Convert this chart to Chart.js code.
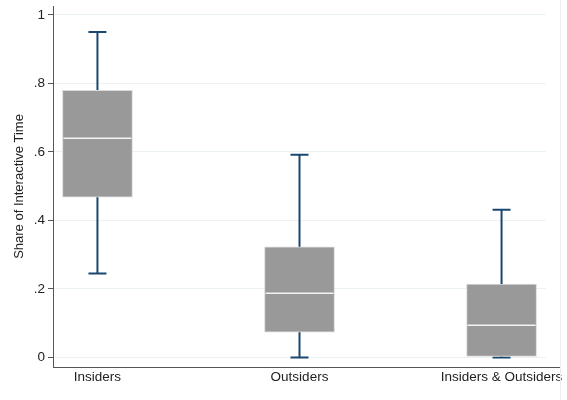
<!DOCTYPE html>
<html>
<head>
<meta charset="utf-8">
<script src="https://cdn.jsdelivr.net/npm/chart.js@4"></script>
<style>
  html, body { margin: 0; padding: 0; background: #fff; }
  #wrap { width: 567px; height: 400px; }
</style>
</head>
<body>
<div id="wrap"><canvas id="myChart"></canvas></div>
<script>
// groups on the x axis
const groups = ['Insiders', 'Outsiders', 'Insiders & Outsiders'];

// box plot values
const whiskerLow = [0.245, 0.0, 0.0];
const q1 = [0.468, 0.074, 0.003];
const median = [0.64, 0.187, 0.094];
const q3 = [0.78, 0.323, 0.214];
const whiskerHigh = [0.95, 0.592, 0.431];

const yTicks = [0, 0.2, 0.4, 0.6, 0.8, 1];
const yTickLabels = ['0', '.2', '.4', '.6', '.8', '1'];

const whiskerColor = '#1a476f';

// whiskers go behind the boxes, medians on top
const boxPlotLines = {
  id: 'boxPlotLines',
  beforeDatasetsDraw(chart) {
    const ctx = chart.ctx, x = chart.scales.x, y = chart.scales.y;
    ctx.save();
    ctx.strokeStyle = whiskerColor;
    ctx.lineWidth = 2;
    groups.forEach((g, i) => {
      const px = x.getPixelForValue(i);
      const lo = y.getPixelForValue(whiskerLow[i]);
      const hi = y.getPixelForValue(whiskerHigh[i]);
      ctx.beginPath();
      ctx.moveTo(px, lo); ctx.lineTo(px, hi);
      ctx.moveTo(px - 9, lo); ctx.lineTo(px + 9, lo);
      ctx.moveTo(px - 9, hi); ctx.lineTo(px + 9, hi);
      ctx.stroke();
    });
    ctx.restore();
  },
  afterDatasetsDraw(chart) {
    const ctx = chart.ctx, x = chart.scales.x, y = chart.scales.y;
    ctx.save();
    ctx.strokeStyle = '#f4f4f4';
    ctx.lineWidth = 1.5;
    groups.forEach((g, i) => {
      const px = x.getPixelForValue(i);
      const py = y.getPixelForValue(median[i]);
      ctx.beginPath();
      ctx.moveTo(px - 34, py); ctx.lineTo(px + 34, py);
      ctx.stroke();
    });
    ctx.restore();
  },
  afterDraw(chart) {
    // x axis line runs a bit past the plot region, plus the faint frame edge
    const ctx = chart.ctx, a = chart.chartArea;
    ctx.save();
    ctx.strokeStyle = '#555';
    ctx.lineWidth = 1;
    ctx.beginPath();
    ctx.moveTo(a.right, a.bottom + 0.5); ctx.lineTo(560, a.bottom + 0.5);
    ctx.stroke();
    ctx.strokeStyle = '#ececec';
    ctx.beginPath();
    ctx.moveTo(560.5, 0); ctx.lineTo(560.5, 400);
    ctx.stroke();
    ctx.restore();
  }
};

const data = {
  datasets: [{
    label: 'IQR',
    data: groups.map((g, i) => ({ x: i, y: [q1[i], q3[i]] })),
    backgroundColor: '#999999',
    borderColor: '#dadada',
    borderWidth: 1,
    borderSkipped: false,
    barThickness: 70
  }]
};

const config = {
  type: 'bar',
  data: data,
  plugins: [boxPlotLines],
  options: {
    responsive: true,
    maintainAspectRatio: false,
    animation: false,
    layout: { padding: { top: 6, right: 21, bottom: 0, left: 0 } },
    plugins: {
      legend: { display: false },
      tooltip: { enabled: false }
    },
    scales: {
      x: {
        type: 'linear',
        offset: false,
        min: -0.22,
        max: 2.22,
        afterBuildTicks: (scale) => { scale.ticks = groups.map((g, i) => ({ value: i })); },
        afterFit: (scale) => { scale.height = 33; scale.paddingLeft = 0; scale.paddingRight = 0; },
        ticks: {
          callback: (v) => groups[v],
          color: '#222',
          font: { family: 'Liberation Sans', size: 13.5 },
          padding: 2,
          maxRotation: 0,
          autoSkip: false
        },
        grid: { display: false, drawTicks: false, offset: false },
        border: { display: true, color: '#555', width: 1 }
      },
      y: {
        type: 'linear',
        min: -0.028,
        max: 1.026,
        afterBuildTicks: (scale) => { scale.ticks = yTicks.map(v => ({ value: v })); },
        afterFit: (scale) => { scale.width = 53; scale.paddingTop = 0; scale.paddingBottom = 0; },
        ticks: {
          callback: (v) => yTickLabels[yTicks.indexOf(v)],
          color: '#222',
          font: { family: 'Liberation Sans', size: 13.5 },
          padding: 3
        },
        grid: {
          color: '#eaf2f3',
          lineWidth: 1,
          tickLength: 5,
          tickColor: '#555'
        },
        border: { display: true, color: '#555', width: 1 },
        title: {
          display: true,
          text: 'Share of Interactive Time',
          color: '#222',
          font: { family: 'Liberation Sans', size: 13 },
          padding: { top: 12, bottom: 0 }
        }
      }
    }
  }
};

var myChart = new Chart(document.getElementById('myChart'), config);
</script>
</body>
</html>
